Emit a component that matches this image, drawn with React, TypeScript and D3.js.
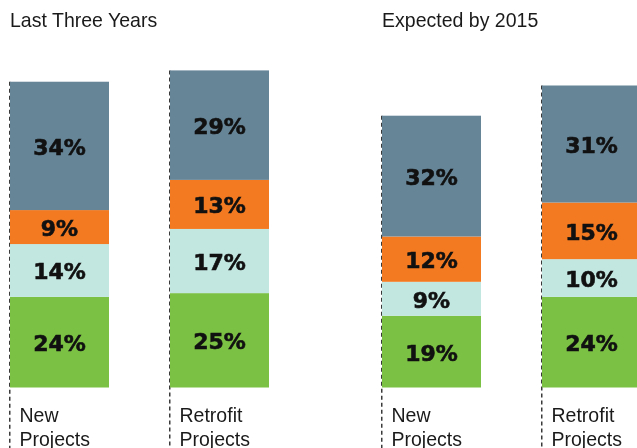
import React from "react";
import * as d3 from "d3";

// chart data
const periods = ["Last Three Years", "Expected by 2015"];
const categories = ["New Projects", "Retrofit Projects"];
const segments = ["green", "teal", "orange", "slate"]; // bottom to top
const lastThreeYears = [
  [24, 14, 9, 34],
  [25, 17, 13, 29],
];
const expectedBy2015 = [
  [19, 9, 12, 32],
  [24, 10, 15, 31],
];

const colors: Record<string, string> = {
  green: "#7BC143",
  teal: "#C2E6E0",
  orange: "#F47A22",
  slate: "#668597",
};

const width = 637;
const height = 448;
const narrowFont = "'Liberation Sans', Arial, sans-serif";

// condensed look: plain sans squeezed horizontally
function NarrowText(props: { x: number; y: number; size: number; children: string }) {
  return (
    <text
      transform={`translate(${props.x},${props.y}) scale(0.93,1)`}
      fontFamily={narrowFont}
      fontSize={props.size}
      fill="#1a1a1a"
    >
      {props.children}
    </text>
  );
}

export default function App() {
  const values = [lastThreeYears, expectedBy2015];

  const outer = d3.scaleBand().domain(periods).range([10, 754]);
  const inner = d3.scaleBand().domain(categories).range([0, 259]).paddingInner(0.38125);
  const y = d3.scaleLinear().domain([0, 100]).range([387.5, 387.5 - 377.5]);
  const color = d3.scaleOrdinal<string, string>().domain(segments).range(segments.map((s) => colors[s]));
  const stack = d3.stack<number[]>().keys(segments.map((_, i) => String(i))).value((d, k) => d[+k]);

  return (
    <svg width={width} height={height} style={{ position: "fixed", left: 0, top: 0 }}>
      {periods.map((p, pi) => {
        const x0 = outer(p)!;
        return (
          <g key={p}>
            <NarrowText x={x0} y={27} size={21}>{p}</NarrowText>
            {categories.map((c, ci) => {
              const bx = x0 + inner(c)!;
              const bw = inner.bandwidth();
              const series = stack([values[pi][ci]]);
              const total = d3.sum(values[pi][ci]);
              const words = c.split(" ");
              return (
                <g key={c}>
                  <line
                    x1={bx - 0.25}
                    x2={bx - 0.25}
                    y1={y(total)}
                    y2={height}
                    stroke="#3a3a3a"
                    strokeWidth={1.5}
                    strokeDasharray="4,3"
                  />
                  {series.map((s, si) => {
                    const [a, b] = s[0];
                    return (
                      <g key={si}>
                        <rect
                          x={bx}
                          y={y(b)}
                          width={bw}
                          height={y(a) - y(b)}
                          fill={color(segments[si])}
                        />
                        <text
                          x={bx + bw / 2}
                          y={(y(a) + y(b)) / 2 + 1}
                          dy="0.36em"
                          textAnchor="middle"
                          fontFamily="'DejaVu Sans', sans-serif"
                          fontWeight="bold"
                          fontSize={22}
                          fill="#111"
                          stroke="#111"
                          strokeWidth={0.6}
                        >
                          {`${b - a}%`}
                        </text>
                      </g>
                    );
                  })}
                  {words.map((w, wi) => (
                    <NarrowText key={w} x={bx + 9.5} y={421.5 + wi * 24} size={21}>
                      {w}
                    </NarrowText>
                  ))}
                </g>
              );
            })}
          </g>
        );
      })}
    </svg>
  );
}
